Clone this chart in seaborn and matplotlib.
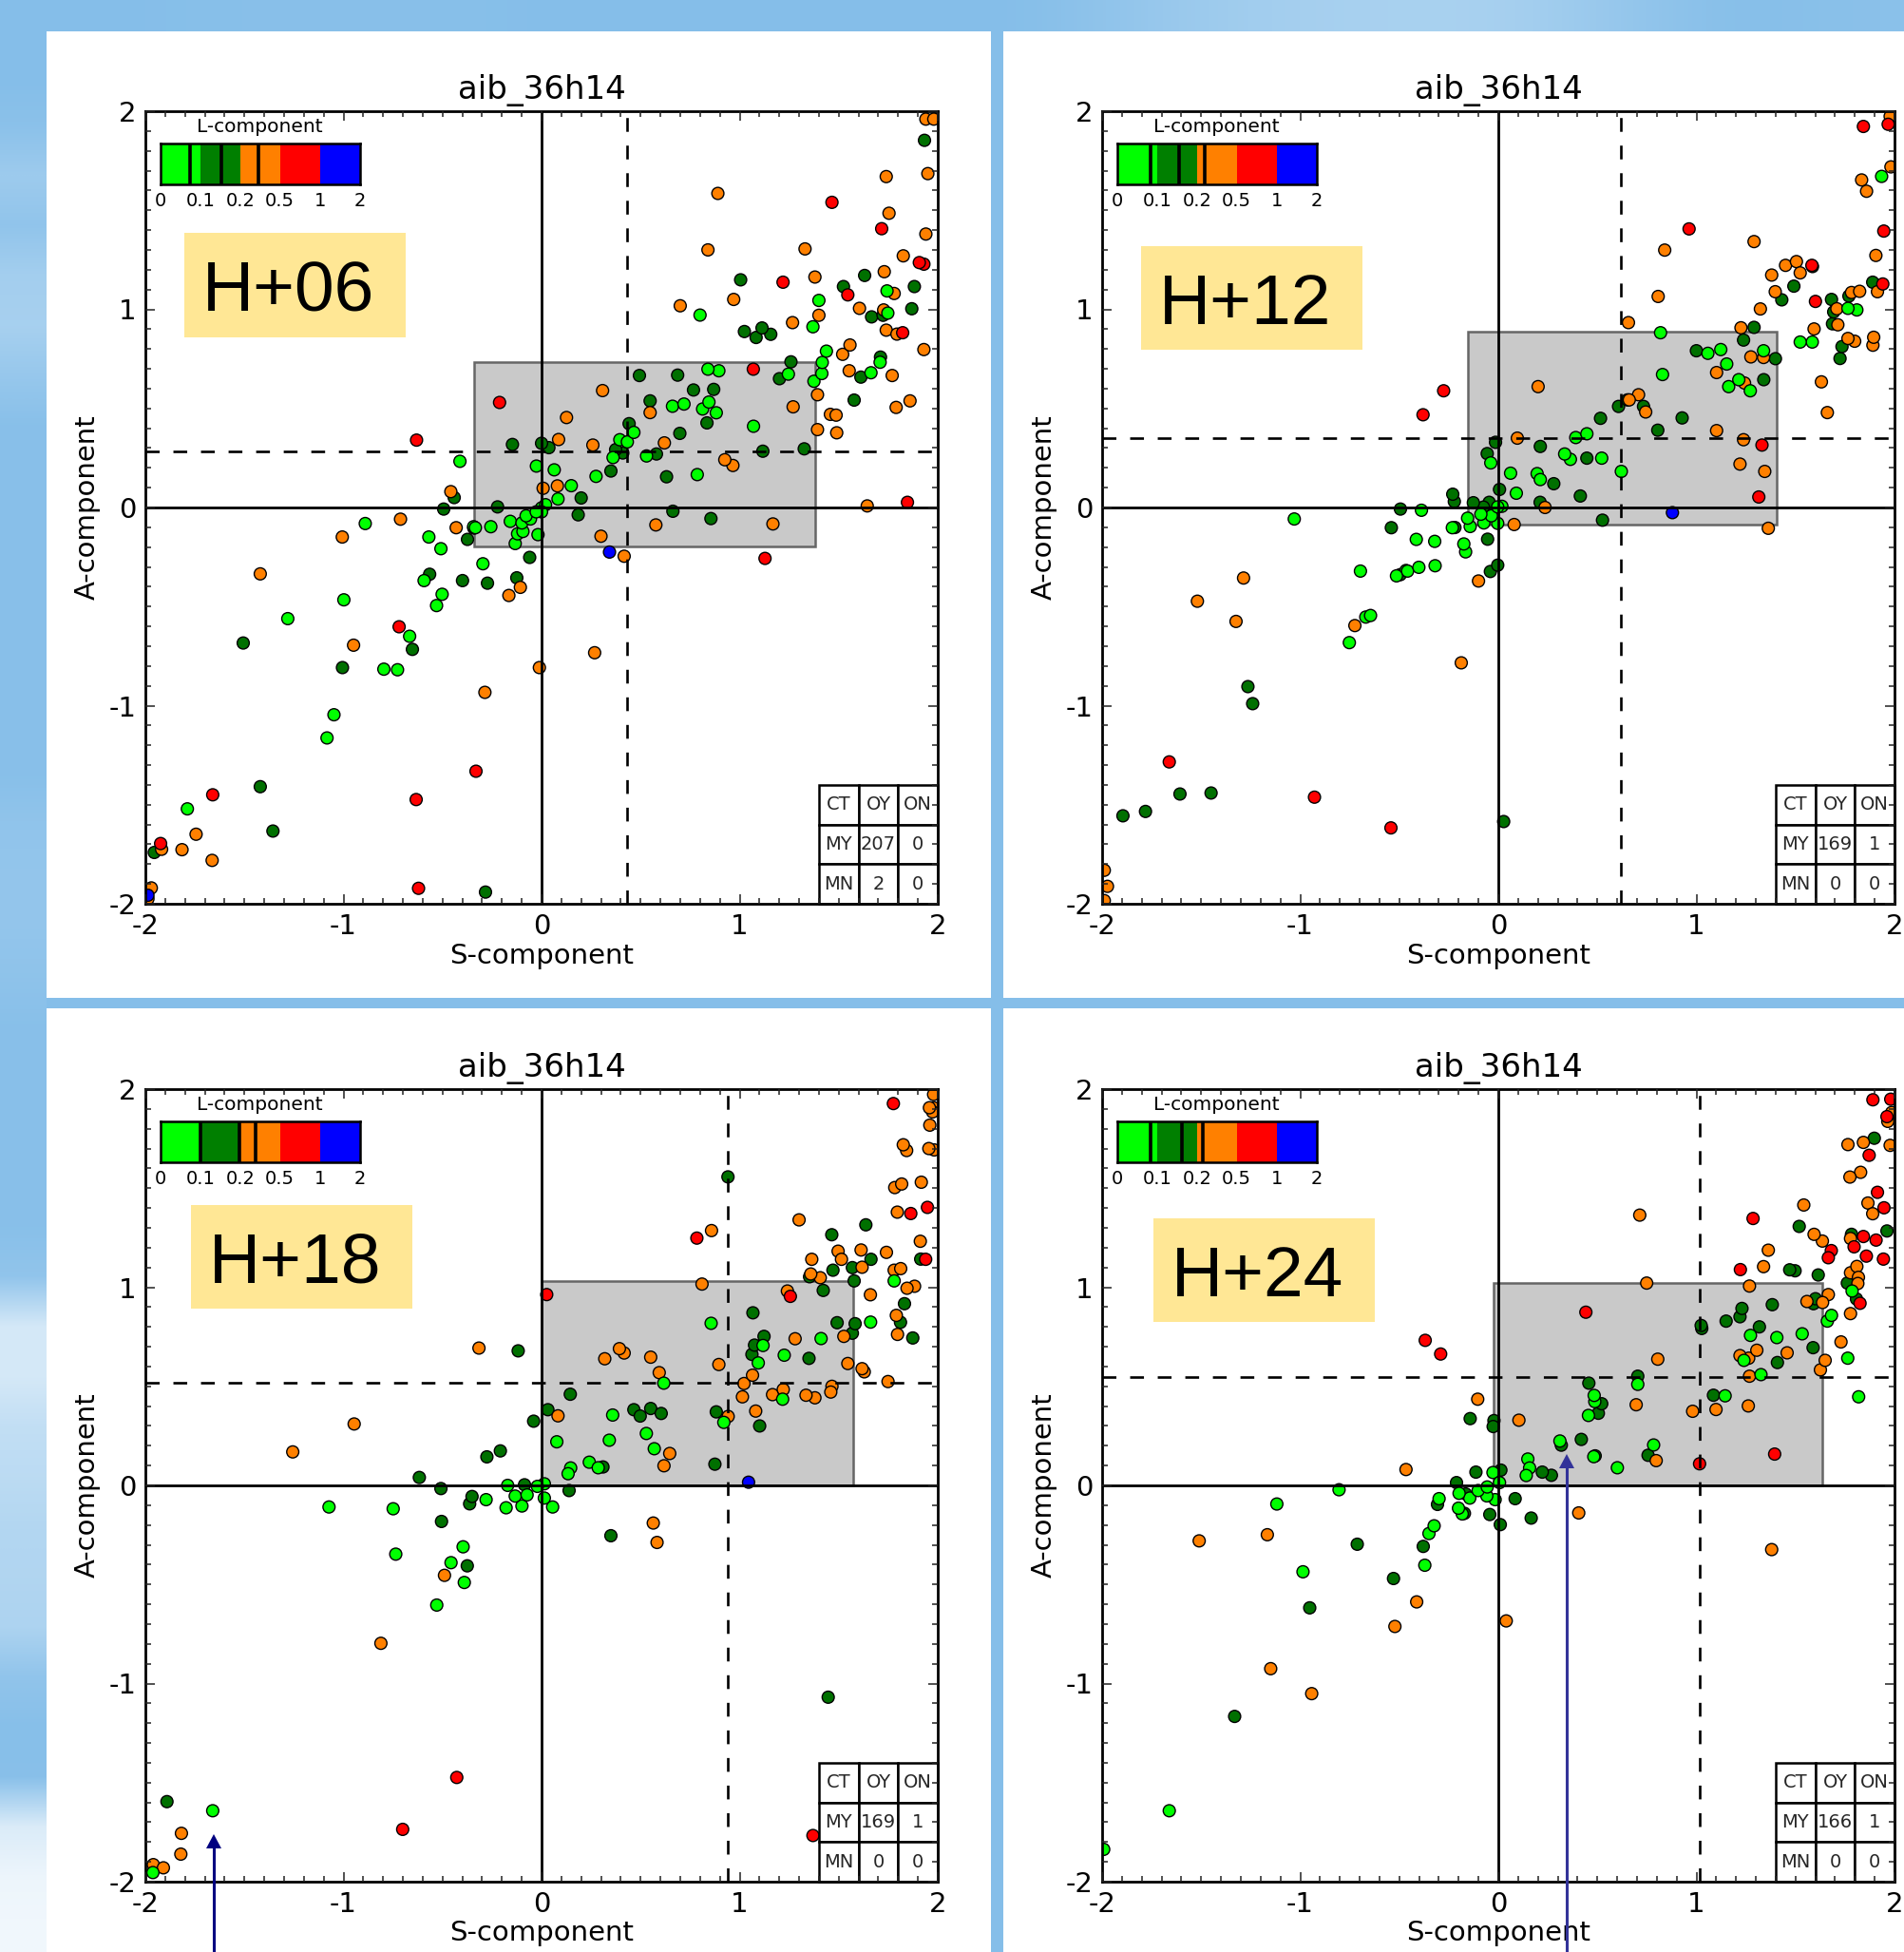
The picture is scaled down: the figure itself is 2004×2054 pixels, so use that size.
import numpy as np
import pandas as pd
import matplotlib
matplotlib.use('Agg')
import matplotlib.pyplot as plt
import seaborn as sns
from matplotlib.colors import LinearSegmentedColormap
from matplotlib.patches import Rectangle, Polygon

# (S-component, A-component) per L-component class
h06_lime = [(1.744,1.093),(1.40,1.045),(0.80,0.971),(1.748,0.981),(1.37,0.912),(1.438,0.789),(1.417,0.732),(1.415,0.676),
    (1.375,0.637),(1.709,0.733),(1.663,0.68),(1.246,0.673),(0.84,0.698),(0.895,0.69),(0.661,0.511),(0.719,0.522),
    (0.845,0.532),(0.813,0.497),(0.882,0.478),(1.07,0.41),(0.466,0.379),(0.433,0.331),(0.395,0.342),(0.361,0.252),
    (0.53,0.26),(0.786,0.166),(0.275,0.157),(0.15,0.11),(0.083,0.043),(0.064,0.19),(-0.026,0.209),(0.02,0.014),
    (0,-0.002),(-0.027,-0.022),(0,-0.022),(-0.078,-0.042),(-0.056,-0.058),(-0.099,-0.078),(-0.158,-0.07),(-0.094,-0.121),
    (-0.121,-0.133),(-0.018,-0.137),(-0.133,-0.182),(-0.256,-0.097),(-0.334,-0.102),(-0.296,-0.284),(-0.412,0.233),
    (-0.89,-0.081),(-0.343,-0.097),(-0.569,-0.149),(-0.508,-0.208),(-0.593,-0.369),(-0.502,-0.438),(-0.53,-0.495),
    (-0.998,-0.466),(-1.281,-0.561),(-0.666,-0.65),(-0.796,-0.816),(-0.727,-0.819),(-1.048,-1.046),(-1.083,-1.163),
    (-1.788,-1.521)]
h06_dark = [(1.933,1.853),(1.005,1.149),(1.631,1.171),(1.524,1.115),(1.882,1.115),(1.869,1.003),(1.666,0.962),(1.724,0.97),
    (1.024,0.888),(1.113,0.906),(1.083,0.858),(1.157,0.874),(1.259,0.735),(1.201,0.65),(1.711,0.759),(1.612,0.658),
    (1.578,0.542),(0.494,0.666),(0.687,0.668),(0.767,0.593),(0.869,0.596),(0.548,0.538),(0.835,0.427),(0.698,0.374),
    (0.442,0.423),(0.374,0.292),(0.41,0.275),(0.58,0.27),(0.35,0.184),(0.631,0.155),(1.117,0.284),(1.326,0.296),
    (-0.147,0.318),(0,0.324),(0.037,0.302),(0.2,0.048),(0.185,-0.037),(0.663,-0.019),(0.855,-0.056),(-0.222,0.003),
    (-0.06,-0.252),(-0.125,-0.355),(-0.273,-0.382),(-0.441,0.05),(-0.494,-0.008),(-0.342,-0.104),(-0.374,-0.161),
    (-0.565,-0.337),(-0.399,-0.369),(-1.506,-0.684),(-0.652,-0.716),(-1.005,-0.808),(-1.42,-1.409),(-1.356,-1.633),
    (-1.955,-1.741),(-0.283,-1.941)]
h06_orange = [(1.94,1.96),(1.98,1.96),(1.95,1.685),(1.74,1.67),(0.89,1.585),(1.754,1.485),(1.94,1.38),(0.84,1.30),(1.33,1.305),
    (1.826,1.27),(1.38,1.163),(1.73,1.19),(0.97,1.05),(0.70,1.018),(1.78,1.08),(1.605,1.005),(1.727,0.997),(1.40,0.97),
    (1.267,0.933),(1.74,0.895),(1.794,0.875),(1.557,0.82),(1.52,0.773),(1.93,0.797),(1.553,0.69),(1.77,0.666),(1.393,0.569),
    (1.27,0.508),(1.458,0.47),(1.487,0.466),(1.79,0.505),(1.86,0.538),(1.393,0.393),(1.49,0.377),(0.308,0.59),(0.548,0.479),
    (0.126,0.454),(0.086,0.343),(0.259,0.315),(0.62,0.326),(0.925,0.241),(0.966,0.212),(0.008,0.097),(0.08,0.109),
    (0.577,-0.088),(0.30,-0.145),(1.168,-0.083),(1.644,0.008),(0.417,-0.246),(-0.458,0.08),(-0.712,-0.059),(-1.006,-0.149),
    (-0.431,-0.102),(-1.42,-0.335),(-0.107,-0.403),(-0.165,-0.444),(-0.949,-0.695),(0.268,-0.733),(-0.011,-0.808),
    (-0.286,-0.933),(-1.744,-1.649),(-1.815,-1.727),(-1.663,-1.781),(-1.918,-1.725),(-1.97,-1.92),(-1.987,-1.975)]
h06_red = [(1.466,1.54),(1.717,1.407),(1.93,1.228),(1.907,1.236),(1.219,1.137),(1.546,1.073),(1.823,0.882),(1.069,0.698),
    (-0.212,0.53),(1.847,0.026),(1.128,-0.257),(-0.631,0.34),(-0.719,-0.602),(-1.66,-1.45),(-0.633,-1.474),(-0.331,-1.331),
    (-1.923,-1.696),(-0.621,-1.922)]
h06_blue = [(0.343,-0.225),(-1.987,-1.957)]

h12_lime = [(1.935,1.671),(0.819,0.882),(1.765,1.005),(1.81,0.997),(1.524,0.835),(1.585,0.835),(1.058,0.778),(1.123,0.797),
    (1.339,0.791),(1.153,0.724),(0.829,0.671),(1.214,0.645),(1.163,0.61),(1.272,0.589),(0.447,0.372),(0.391,0.353),
    (0.335,0.27),(0.364,0.243),(0.522,0.249),(0.621,0.182),(-0.038,0.225),(0.062,0.173),(0.196,0.171),(0.212,0.141),
    (0.091,0.072),(0.018,0.006),(-0.003,0.003),(-0.088,-0.034),(-0.035,-0.042),(-0.155,-0.054),(-0.073,-0.078),
    (-0.003,-0.08),(-0.142,-0.096),(-0.232,-0.102),(-0.388,-0.014),(-0.414,-0.161),(-0.321,-0.171),(-0.174,-0.184),
    (-0.165,-0.224),(-0.401,-0.302),(-0.319,-0.294),(-0.458,-0.321),(-1.03,-0.058),(-0.696,-0.321),(-0.514,-0.345),
    (-0.466,-0.318),(-0.645,-0.545),(-0.669,-0.553),(-0.752,-0.682)]
h12_dark = [(1.586,1.216),(1.89,1.137),(1.492,1.117),(1.431,1.048),(1.682,1.05),(1.77,1.067),(1.693,0.987),(1.687,0.927),
    (1.291,0.909),(1.238,0.845),(1.735,0.812),(1.725,0.752),(1.0,0.791),(1.399,0.751),(1.34,0.645),(0.652,0.543),(0.607,0.51),
    (0.733,0.51),(0.516,0.45),(0.928,0.452),(0.805,0.39),(-0.014,0.329),(0.212,0.308),(-0.056,0.272),(0.447,0.249),(0.28,0.12),
    (0.006,0.091),(0.414,0.058),(0.211,0.026),(0.526,-0.064),(-0.23,0.067),(-0.222,0.03),(-0.126,0.024),(-0.046,0.026),
    (-0.075,0.002),(-0.054,-0.16),(-0.003,-0.291),(-0.04,-0.323),(-0.219,-0.101),(-0.494,-0.008),(-0.54,-0.102),(-0.495,-0.339),
    (-1.264,-0.904),(-1.24,-0.99),(-1.895,-1.556),(-1.781,-1.534),(-1.607,-1.446),(-1.45,-1.441),(0.027,-1.585)]
h12_orange = [(1.978,1.974),(1.982,1.719),(1.834,1.653),(1.859,1.596),(1.291,1.342),(0.84,1.299),(1.906,1.272),(1.45,1.222),
    (1.505,1.241),(1.524,1.184),(1.38,1.173),(1.398,1.089),(0.807,1.065),(1.783,1.085),(1.824,1.091),(1.914,1.089),(1.709,1.003),
    (1.323,1.002),(0.657,0.933),(1.225,0.907),(1.594,0.901),(1.714,0.922),(1.765,0.853),(1.799,0.839),(1.895,0.859),(1.891,0.819),
    (1.275,0.76),(1.339,0.757),(1.102,0.681),(1.243,0.628),(1.631,0.634),(1.661,0.479),(0.201,0.61),(0.708,0.569),(0.661,0.543),
    (0.744,0.482),(1.102,0.388),(1.238,0.342),(0.096,0.35),(1.22,0.219),(1.345,0.182),(0.236,0),(0.08,-0.086),(1.363,-0.105),
    (-0.10,-0.371),(-1.286,-0.356),(-1.519,-0.473),(-1.324,-0.575),(-0.724,-0.596),(-0.187,-0.784),(-1.989,-1.831),(-1.973,-1.912),
    (-1.989,-1.984)]
h12_red = [(1.843,1.923),(1.968,1.934),(0.963,1.406),(1.946,1.395),(1.583,1.222),(1.941,1.128),(1.601,1.04),(-0.276,0.589),
    (-0.38,0.468),(1.331,0.315),(1.315,0.053),(-1.661,-1.284),(-0.928,-1.462),(-0.542,-1.617)]
h12_blue = [(0.879,-0.026)]

h18_lime = [(1.78,1.032),(0.856,0.818),(1.661,0.824),(1.118,0.706),(1.225,0.657),(1.411,0.741),(1.094,0.618),(0.617,0.516),
    (1.217,0.435),(0.359,0.355),(0.92,0.318),(0.529,0.262),(0.342,0.228),(0.077,0.22),(0.569,0.185),(0.241,0.117),(0.286,0.089),
    (0.147,0.088),(0.134,0.059),(0.014,0.008),(-0.021,-0.005),(-0.171,0),(0.014,-0.064),(0.056,-0.109),(-0.073,-0.048),
    (-0.133,-0.054),(-0.099,-0.104),(-0.179,-0.113),(-0.28,-0.072),(-1.073,-0.109),(-0.749,-0.118),(-0.736,-0.347),(-0.396,-0.31),
    (-0.457,-0.39),(-0.39,-0.49),(-0.529,-0.604),(-1.66,-1.642),(-1.962,-1.954)]
h18_dark = [(0.941,1.557),(1.637,1.315),(1.465,1.265),(1.663,1.141),(1.914,1.142),(1.471,1.086),(1.569,1.099),(1.578,1.032),
    (1.353,1.053),(1.422,0.984),(1.832,0.917),(1.067,0.871),(1.492,0.821),(1.583,0.816),(1.569,0.768),(1.812,0.823),(1.874,0.744),
    (1.123,0.752),(1.075,0.708),(1.062,0.661),(1.35,0.641),(-0.118,0.679),(0.145,0.46),(0.032,0.382),(-0.04,0.324),(0.466,0.382),
    (0.498,0.35),(0.551,0.388),(0.604,0.363),(0.882,0.371),(1.101,0.30),(-0.208,0.174),(-0.276,0.144),(0.31,0.093),(0.875,0.107),
    (-0.086,0.003),(0.139,-0.026),(0.35,-0.254),(-0.617,0.04),(-0.508,-0.016),(-0.351,-0.056),(-0.363,-0.093),(-0.505,-0.182),
    (-0.375,-0.406),(-1.891,-1.596),(1.447,-1.069)]
h18_orange = [(1.979,1.973),(1.958,1.906),(1.979,1.906),(1.974,1.885),(1.96,1.818),(1.826,1.719),(1.843,1.69),(1.955,1.70),
    (1.982,1.693),(1.917,1.53),(1.818,1.521),(1.783,1.503),(1.796,1.379),(1.3,1.34),(0.858,1.286),(1.912,1.232),(1.497,1.182),
    (1.613,1.188),(1.741,1.176),(1.514,1.141),(1.364,1.141),(1.618,1.101),(1.78,1.086),(1.813,1.094),(1.359,1.067),(1.407,1.048),
    (0.81,1.016),(1.241,0.981),(1.66,0.962),(1.845,0.995),(1.883,1.005),(1.791,0.858),(1.797,0.762),(1.28,0.74),(1.526,0.752),
    (-0.316,0.693),(0.393,0.69),(0.417,0.668),(0.319,0.639),(0.551,0.647),(0.895,0.61),(1.546,0.615),(1.618,0.589),(1.629,0.573),
    (0.594,0.569),(1.065,0.556),(1.022,0.514),(1.749,0.524),(1.22,0.484),(1.166,0.458),(1.335,0.455),(1.38,0.442),(1.466,0.5),
    (1.46,0.471),(1.014,0.447),(0.083,0.351),(0.942,0.348),(1.081,0.375),(0.647,0.161),(0.618,0.099),(0.564,-0.19),(0.583,-0.288),
    (-0.946,0.31),(-1.256,0.169),(-0.49,-0.454),(-0.811,-0.797),(-1.818,-1.756),(-1.821,-1.861),(-1.96,-1.914),(-1.909,-1.93)]
h18_red = [(1.776,1.927),(1.864,1.372),(1.948,1.403),(1.939,1.141),(0.784,1.248),(0.026,0.963),(1.256,0.954),(-0.428,-1.474),
    (-0.701,-1.736),(1.37,-1.767)]
h18_blue = [(1.045,0.016)]

h24_lime = [(1.786,0.981),(1.682,0.858),(1.661,0.829),(1.534,0.765),(1.406,0.746),(1.273,0.757),(1.764,0.642),(1.24,0.631),
    (1.326,0.559),(0.704,0.51),(1.819,0.447),(1.145,0.452),(0.484,0.454),(0.487,0.423),(0.455,0.353),(0.311,0.224),(0.784,0.204),
    (0.482,0.145),(0.601,0.089),(0.149,0.133),(0.158,0.088),(0.141,0.05),(-0.027,0.065),(0.006,0.014),(-0.056,-0.008),(-0.102,-0.026),
    (-0.198,-0.04),(-0.144,-0.064),(-0.058,-0.053),(-0.016,-0.072),(-0.299,-0.067),(-0.201,-0.115),(-0.182,-0.144),(-0.324,-0.204),
    (-0.35,-0.243),(-0.371,-0.403),(-0.804,-0.022),(-1.118,-0.094),(-0.986,-0.436),(-1.661,-1.642),(-1.992,-1.837)]
h24_dark = [(1.898,1.752),(1.519,1.307),(1.783,1.267),(1.962,1.284),(1.471,1.088),(1.498,1.083),(1.615,1.062),(1.762,1.021),
    (1.808,0.941),(1.601,0.942),(1.591,0.917),(1.383,0.912),(1.23,0.893),(1.22,0.851),(1.15,0.829),(1.024,0.807),(1.027,0.792),
    (1.318,0.8),(1.589,0.695),(1.409,0.62),(0.704,0.551),(0.457,0.516),(0.522,0.412),(0.505,0.364),(1.086,0.455),(-0.142,0.337),
    (-0.022,0.327),(-0.026,0.297),(0.419,0.232),(0.318,0.203),(0.489,0.149),(0.756,0.152),(-0.113,0.067),(0.013,0.077),(0.222,0.067),
    (0.268,0.051),(-0.211,0.014),(-0.165,-0.043),(0.085,-0.067),(-0.307,-0.096),(-0.171,-0.141),(-0.043,-0.147),(0.01,-0.198),
    (0.166,-0.165),(-0.379,-0.308),(-0.712,-0.297),(-0.529,-0.47),(-0.952,-0.618),(-1.331,-1.166)]
h24_orange = [(1.986,1.882),(1.966,1.837),(1.765,1.72),(1.843,1.731),(1.978,1.716),(1.775,1.556),(1.829,1.58),(1.542,1.415),
    (1.866,1.425),(1.89,1.371),(0.714,1.364),(1.594,1.267),(1.636,1.233),(1.363,1.187),(1.778,1.246),(1.339,1.104),(1.778,1.073),
    (1.81,1.105),(1.818,1.05),(1.815,1.019),(0.749,1.021),(1.268,1.006),(1.666,0.963),(1.558,0.928),(1.637,0.923),(1.778,0.867),
    (1.73,0.724),(0.805,0.637),(1.305,0.682),(1.22,0.655),(1.264,0.642),(1.458,0.669),(1.65,0.631),(1.626,0.583),(1.268,0.551),
    (-0.104,0.435),(0.104,0.329),(0.696,0.407),(0.981,0.374),(1.099,0.383),(1.262,0.401),(0.797,0.125),(-0.466,0.08),(0.406,-0.139),
    (1.38,-0.324),(-1.51,-0.28),(-1.166,-0.249),(-0.412,-0.588),(-0.522,-0.712),(0.04,-0.684),(-1.149,-0.925),(-0.942,-1.051)]
h24_red = [(1.891,1.946),(1.981,1.949),(1.962,1.861),(1.872,1.666),(1.914,1.479),(1.947,1.401),(1.286,1.347),(1.843,1.256),
    (1.907,1.238),(1.796,1.204),(1.681,1.185),(1.666,1.149),(1.858,1.157),(1.944,1.142),(1.222,1.089),(1.826,0.919),(0.442,0.874),
    (-0.369,0.732),(-0.291,0.663),(1.395,0.158),(1.016,0.109)]
h24_blue = []

panel_names = ['H+06', 'H+12', 'H+18', 'H+24']
boxes = [(-0.339, 1.383, -0.196, 0.733), (-0.155, 1.404, -0.085, 0.885), (0, 1.575, 0, 1.032), (-0.026, 1.637, 0, 1.021)]
dash_s = [0.433, 0.617, 0.941, 1.016]
dash_a = [0.283, 0.35, 0.516, 0.545]
table_my = [['207', '0'], ['169', '1'], ['169', '1'], ['166', '1']]
table_mn = [['2', '0'], ['0', '0'], ['0', '0'], ['0', '0']]
bar_marks = [[0.74, 1.53, 2.46], [0.84, 1.56, 2.19], [1.0, 1.97, 2.38], [0.84, 1.63, 2.16]]
bar_labels = ['0', '0.1', '0.2', '0.5', '1', '2']
classes = ['lime', 'dark', 'orange', 'red', 'blue']
colors = {'lime': '#00FF00', 'dark': '#007000', 'orange': '#FF8000', 'red': '#FF0000', 'blue': '#0000FF'}

# light patches of the slide background, 0 = plain blue, 1 = white
left_shade = [0, 0, .05, .2, .1, .25, .28, .15, .03, .03, .03, .03, .03, .03, .03, .03, .1, .12, .12, .08,
              .03, .03, .03, .03, .03, .1, .65, .65, .5, .45, .38, .36, .33, .1, .02, .03, .7, .85, .88]
top_shade = [0, .03, .03, .03, 0, 0, 0, 0, 0, .15, .25, .3, .3, .15, 0, .05]

W, H = 2004, 2054
BLUE = '#85BEE9'

sns.set_theme(style='ticks', rc={'axes.unicode_minus': False, 'axes.axisbelow': False,
                                 'xtick.direction': 'in', 'ytick.direction': 'in'})
plt.rcParams['font.family'] = ['DejaVu Sans']

fig = plt.figure(figsize=(W / 100, H / 100), dpi=100, facecolor=BLUE)


def px_axes(x0, y0, x1, y1, **kw):
    return fig.add_axes([x0 / W, 1 - y1 / H, (x1 - x0) / W, (y1 - y0) / H], **kw)


# slide background and white panels
bg = px_axes(0, 0, W, H, zorder=-1)
bg.set_axis_off()
cm = LinearSegmentedColormap.from_list('slide', [BLUE, '#FFFFFF'])
bg.imshow(np.array(left_shade)[:, None], extent=[0, 49, H, 0], cmap=cm, vmin=0, vmax=1, aspect='auto', interpolation='bilinear')
bg.imshow(np.array(top_shade)[None, :], extent=[49, W, 33, 0], cmap=cm, vmin=0, vmax=1, aspect='auto', interpolation='bicubic')
bg.set_xlim(0, W)
bg.set_ylim(H, 0)
for x0, x1 in [(49, 1043), (1056, W)]:
    for y0, y1 in [(33, 1050), (1061, H)]:
        bg.add_patch(Rectangle((x0, y0), x1 - x0, y1 - y0, fc='white', ec='none'))

ax_pos = [(153, 117, 987, 951), (1160, 117, 1994, 951), (153, 1146, 987, 1980), (1160, 1146, 1994, 1980)]
point_sets = [
    [h06_lime, h06_dark, h06_orange, h06_red, h06_blue],
    [h12_lime, h12_dark, h12_orange, h12_red, h12_blue],
    [h18_lime, h18_dark, h18_orange, h18_red, h18_blue],
    [h24_lime, h24_dark, h24_orange, h24_red, h24_blue],
]

for i, pos in enumerate(ax_pos):
    ax = px_axes(*pos)
    rows = [(s, a, c) for c, pts in zip(classes, point_sets[i]) for s, a in pts]
    df = pd.DataFrame(rows, columns=['S', 'A', 'L'])
    df['L'] = pd.Categorical(df['L'], ['dark', 'orange', 'red', 'blue', 'lime'], ordered=True)
    df = df.sort_values('L')

    x0, x1, y0, y1 = boxes[i]
    ax.add_patch(Rectangle((x0, y0), x1 - x0, y1 - y0, fc='#C9C9C9', ec='#666666', lw=1.8, zorder=0.5))
    sns.scatterplot(data=df, x='S', y='A', hue='L', palette=colors, s=84, edgecolor='black', linewidth=1.0,
                    legend=False, ax=ax, zorder=1, clip_on=True)
    ax.axhline(0, color='black', lw=2.0, zorder=2)
    ax.axvline(0, color='black', lw=2.0, zorder=2)
    ax.axhline(dash_a[i], color='black', lw=1.9, ls=(0, (5.5, 5.5)), zorder=2)
    ax.axvline(dash_s[i], color='black', lw=1.9, ls=(0, (5.5, 5.5)), zorder=2)

    ax.set_xlim(-2, 2)
    ax.set_ylim(-2, 2)
    ax.set_xticks([-2, -1, 0, 1, 2])
    ax.set_yticks([-2, -1, 0, 1, 2])
    ax.set_xticklabels(['-2', '-1', '0', '1', '2'])
    ax.set_yticklabels(['-2', '-1', '0', '1', '2'])
    ax.minorticks_on()
    ax.xaxis.set_minor_locator(plt.MultipleLocator(0.1))
    ax.yaxis.set_minor_locator(plt.MultipleLocator(0.1))
    ax.tick_params(which='major', direction='in', top=True, right=True, length=7, width=1.1, labelsize=21, pad=7, color='#222222', labelcolor='black')
    ax.tick_params(which='minor', direction='in', top=True, right=True, length=4, width=1.1, color='#222222')
    for sp in ax.spines.values():
        sp.set_linewidth(2.0)
        sp.set_color('black')
        sp.set_visible(True)
    ax.set_xlabel('S-component', fontsize=21, labelpad=2, color='black')
    ax.set_ylabel('A-component', fontsize=21, labelpad=6, color='black')
    ax.set_title('aib_36h14', fontsize=24.5, pad=9.5, color='black')

    # count table in the corner
    tb = ax.table(cellText=[['CT', 'OY', 'ON'], ['MY'] + table_my[i], ['MN'] + table_mn[i]],
                  cellLoc='center', bbox=[0.85, 0, 0.15, 0.15], zorder=1.5)
    tb.auto_set_font_size(False)
    tb.set_fontsize(14)
    for cell in tb.get_celld().values():
        cell.set_linewidth(1.8)
        cell.set_edgecolor('black')
        cell.set_facecolor('white')
        cell.PAD = 0.03

    # L-component colour bar
    bar = ax.inset_axes([0.019, 0.9075, 0.2516, 0.0515])
    for j, c in enumerate(['#00FF00', '#007F00', '#FF8000', '#FF0000', '#0000FF']):
        bar.barh(0, 1, left=j, height=1, color=c, edgecolor='none')
    for m in bar_marks[i]:
        bar.axvline(m, color='black', lw=2.6)
    bar.set_xlim(0, 5)
    bar.set_ylim(-0.5, 0.5)
    bar.set_yticks([])
    bar.set_xticks(range(6))
    bar.set_xticklabels(bar_labels)
    bar.tick_params(axis='x', length=0, labelsize=14, pad=6, labelcolor='black')
    for sp in bar.spines.values():
        sp.set_linewidth(1.8)
        sp.set_color('black')
    bar.set_title('L-component', fontsize=14.5, pad=9, color='black')

# overlay in pixels for the yellow labels and the arrows
top = px_axes(0, 0, W, H, zorder=10)
top.set_axis_off()
top.set_xlim(0, W)
top.set_ylim(H, 0)
label_boxes = [(194, 245, 427, 355), (1201, 259, 1434, 368), (201, 1268, 434, 1377), (1214, 1282, 1447, 1391)]
for name, (x0, y0, x1, y1) in zip(panel_names, label_boxes):
    top.add_patch(Rectangle((x0, y0), x1 - x0, y1 - y0, fc='#FFE795', ec='none'))
    top.text(x0 + 19, (y0 + y1) / 2 + 8, name, fontsize=54, family='Liberation Sans', color='black', ha='left', va='center')

for x, tip, col in [(225, 1930, '#000080'), (1649, 1530, '#333399')]:
    top.plot([x, x], [tip + 12, H], color=col, lw=2.2, solid_capstyle='butt')
    top.add_patch(Polygon([(x, tip), (x - 8, tip + 15), (x + 8, tip + 15)], fc=col, ec='none'))

fig.savefig('out.png', dpi=100, facecolor=fig.get_facecolor())
